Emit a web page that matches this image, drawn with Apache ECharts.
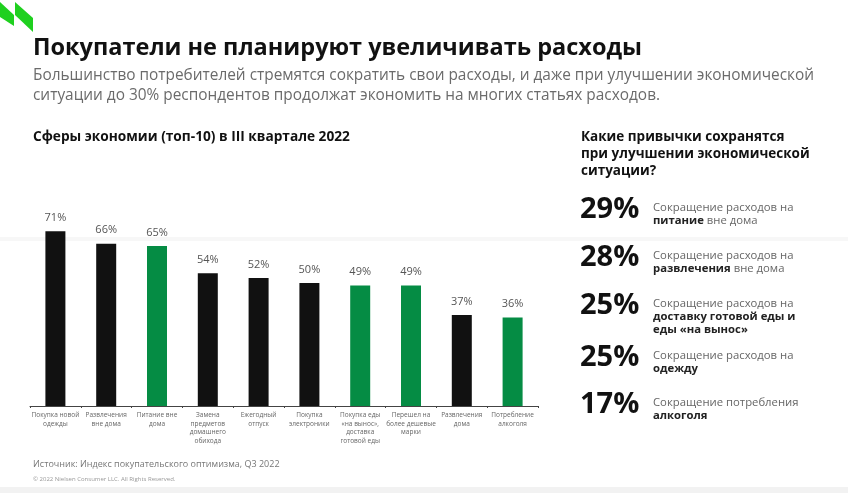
<!DOCTYPE html>
<html><head><meta charset="utf-8">
<script src="https://cdn.jsdelivr.net/npm/echarts@6/dist/echarts.min.js"></script>
<style>html,body{margin:0;padding:0;background:#fff}#c{width:848px;height:493px}</style>
</head><body><div id="c"></div>
<script>
const categories = ['Покупка новой\nодежды','Развлечения\nвне дома','Питание вне\nдома','Замена\nпредметов\nдомашнего\nобихода','Ежегодный\nотпуск','Покупка\nэлектроники','Покупка еды\n«на вынос»,\nдоставка\nготовой еды','Перешел на\nболее дешевые\nмарки','Развлечения\nдома','Потребление\nалкоголя'];
const values = [71,66,65,54,52,50,49,49,37,36];
const highlighted = [false,false,true,false,false,false,true,true,false,true];
const habitValues = ['29%','28%','25%','25%','17%'];
const habitTexts = [
  ['Сокращение расходов на', '{b|питание} вне дома'],
  ['Сокращение расходов на', '{b|развлечения} вне дома'],
  ['Сокращение расходов на', '{b|доставку готовой еды и}', '{b|еды «на вынос»}'],
  ['Сокращение расходов на', '{b|одежду}'],
  ['Сокращение потребления', '{b|алкоголя}']
];
const FONT = '"Open Sans", "Noto Sans", sans-serif';
const chart = echarts.init(document.getElementById('c'));
const habitY = [212, 260, 308, 360, 407];
const g = [
  {type:'rect', shape:{x:0,y:237,width:848,height:4}, style:{fill:'#f7f7f7'}, silent:true},
  {type:'rect', shape:{x:0,y:487,width:848,height:6}, style:{fill:'#f2f2f2'}, silent:true},
  {type:'polygon', shape:{points:[[0,2],[14,15],[14,26],[0,17]]}, style:{fill:'#1fd01f'}},
  {type:'polygon', shape:{points:[[15,2],[33,18],[33,32],[15,15]]}, style:{fill:'#1fd01f'}},
  {type:'text', left:33, top:36, style:{text:'Покупатели не планируют увеличивать расходы', font:'bold 23.5px '+FONT, fill:'#111'}},
  {type:'text', left:33, top:66, style:{text:'Большинство потребителей стремятся сократить свои расходы, и даже при улучшении экономической\nситуации до 30% респондентов продолжат экономить на многих статьях расходов.', font:'15.4px '+FONT, fill:'#6b6b6b', lineHeight:20}},
  {type:'text', left:33, top:130, style:{text:'Сферы экономии (топ-10) в III квартале 2022', font:'bold 13.7px '+FONT, fill:'#111'}},
  {type:'text', left:581, top:129, style:{text:'Какие привычки сохранятся\nпри улучшении экономической\nситуации?', font:'bold 13.5px '+FONT, fill:'#111', lineHeight:17}},
  {type:'text', left:33, top:460, style:{text:'Источник: Индекс покупательского оптимизма, Q3 2022', font:'9px '+FONT, fill:'#777'}},
  {type:'text', left:33, top:476, style:{text:'© 2022 Nielsen Consumer LLC. All Rights Reserved.', font:'6px '+FONT, fill:'#999'}}
];
habitValues.forEach((v,i)=>{
  g.push({type:'text', left:580, top:habitY[i]-17, style:{text:v, font:'bold 29px '+FONT, fill:'#111'}});
  const lines = habitTexts[i];
  g.push({type:'text', left:653, top:habitY[i]-11, style:{text:lines.join('\n'), font:'11.3px '+FONT, fill:'#666', lineHeight:13, rich:{b:{font:'bold 11.3px '+FONT, fill:'#222', lineHeight:13}}}});
});
chart.setOption({
  backgroundColor:'#fff',
  animation:false,
  grid:{left:30, right:310, top:160, bottom:87},
  xAxis:{type:'category', data:categories,
    axisLine:{lineStyle:{color:'#444', width:1}},
    axisTick:{show:true, lineStyle:{color:'#444'}, length:2},
    axisLabel:{interval:0, fontSize:6.5, color:'#666', lineHeight:8.5, fontFamily:FONT, margin:5}},
  yAxis:{type:'value', min:0, max:100, show:false, splitLine:{show:false}},
  series:[{type:'bar', barWidth:20,
    data: values.map((v,i)=>({value:v, itemStyle:{color: highlighted[i] ? '#058c44' : '#111111'}})),
    label:{show:true, position:'top', distance:8, formatter:'{c}%', fontSize:11, color:'#555', fontFamily:FONT}}],
  graphic:g
});
</script></body></html>
